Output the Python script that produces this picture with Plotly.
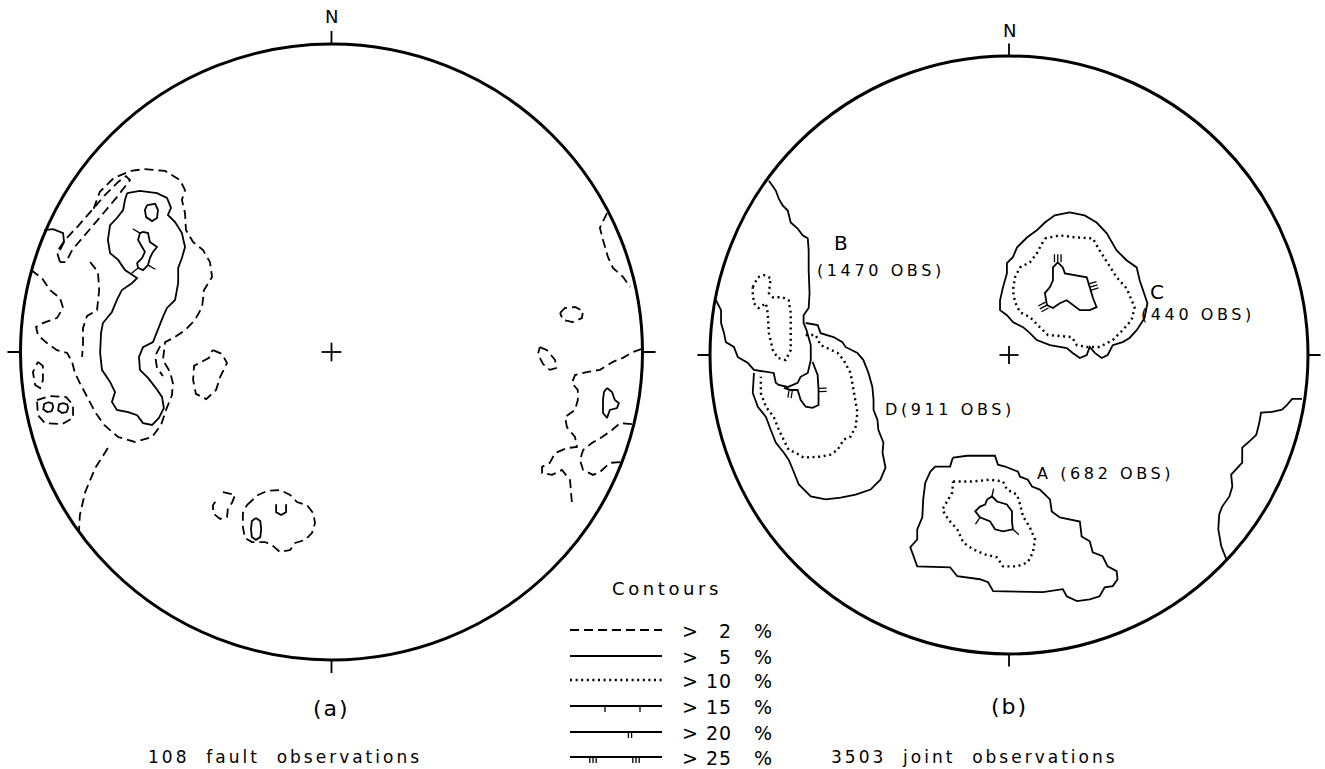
import math
import plotly.graph_objects as go

W, H = 1325, 769
R = 100.0  # net radius in data units

# page geometry of the two stereonets (pixels)
NET_A = dict(cx=331.5, cy=352.0, rx=311.0, ry=308.0)
NET_B = dict(cx=1009.0, cy=355.0, rx=299.0, ry=299.0)

# ---------------- data: net (a), 108 fault observations ----------------
# coordinates: east, north in % of net radius
A_WEST_2 = [(-96.6, 26.6), (-93.1, 24.0), (-90.5, 20.1), (-87.3, 17.5), (-86.3, 14.3), (-88.3, 11.0),
            (-92.8, 9.4), (-95.0, 8.1), (-94.4, 5.5), (-91.5, 2.9), (-88.3, 0.6), (-85.0, -0.3),
            (-83.4, -3.2), (-82.5, -6.8), (-80.9, -10.1), (-78.3, -14.9), (-76.0, -19.5), (-73.1, -23.7),
            (-68.6, -27.6), (-63.2, -29.2), (-57.7, -27.6), (-54.8, -23.7), (-53.2, -18.8), (-51.3, -14.0),
            (-51.0, -10.1), (-51.9, -6.5), (-54.2, -2.6), (-53.5, 3.2), (-50.3, 4.9), (-47.1, 7.1),
            (-43.9, 10.4), (-41.6, 14.6), (-41.0, 20.1), (-38.4, 24.4), (-39.1, 29.2), (-41.3, 33.1),
            (-44.5, 35.7), (-46.8, 39.6), (-47.1, 45.1), (-48.1, 49.4), (-47.1, 52.6), (-48.7, 55.8),
            (-53.5, 58.8), (-60.0, 59.4), (-64.5, 58.8), (-70.0, 56.5), (-74.5, 52.0), (-77.0, 45.1)]
A_WEST_INNER_2 = [(-77.6, 29.2), (-75.1, 26.0), (-74.7, 20.1), (-75.4, 13.6), (-78.6, 11.7), (-79.9, 7.8),
                  (-79.9, 2.9), (-80.2, -1.6)]
A_NW_LOOP_2 = [(-87.3, 29.2), (-88.3, 32.5), (-85.7, 36.4), (-81.5, 40.9), (-77.0, 46.1), (-72.8, 51.0),
               (-68.6, 55.2), (-66.1, 57.1), (-64.8, 55.8), (-69.0, 50.3), (-73.8, 44.5), (-78.9, 38.6),
               (-83.4, 33.1), (-85.4, 29.2)]
A_NW_EDGE_5 = [(-92.4, 39.6), (-89.5, 39.9), (-86.3, 38.6), (-86.0, 35.7), (-87.3, 33.1)]
A_MAIN_5 = [(-65.7, 51.6), (-61.6, 52.3), (-56.1, 51.6), (-52.9, 50.0), (-51.6, 46.8), (-52.6, 44.5),
            (-50.3, 42.2), (-48.1, 38.6), (-47.1, 34.1), (-48.1, 30.5), (-49.3, 27.3), (-49.3, 22.4),
            (-50.3, 16.9), (-52.9, 14.3), (-54.2, 11.4), (-56.1, 6.5), (-57.4, 3.2), (-60.6, 1.6),
            (-61.9, -1.6), (-61.6, -5.8), (-59.0, -8.4), (-56.7, -11.4), (-54.5, -14.6), (-53.9, -18.2),
            (-55.5, -21.4), (-57.7, -23.7), (-60.6, -23.1), (-62.5, -20.5), (-65.4, -19.5), (-69.0, -18.8),
            (-70.6, -16.2), (-69.6, -13.0), (-71.2, -9.7), (-73.8, -5.8), (-74.4, -0.3), (-74.1, 6.2),
            (-73.5, 9.4), (-70.6, 13.0), (-69.0, 16.9), (-67.4, 20.1), (-64.1, 22.4), (-62.5, 24.0),
            (-64.1, 25.0), (-66.4, 26.6), (-68.6, 29.9), (-71.2, 32.1), (-71.9, 36.4), (-71.2, 41.2),
            (-69.0, 43.5), (-67.0, 46.1), (-66.4, 49.4)]
A_Q_5 = [(-59.3, 47.7), (-56.7, 48.1), (-55.8, 46.1), (-56.1, 43.5), (-57.7, 42.5), (-59.6, 43.8), (-60.0, 46.1)]
A_S_15 = [(-60.6, 39.0), (-59.0, 38.6), (-58.4, 35.7), (-56.1, 34.1), (-57.4, 32.5), (-58.4, 30.5),
          (-59.0, 28.2), (-60.6, 26.6), (-62.2, 27.3), (-62.5, 28.9), (-60.9, 30.5), (-60.0, 32.5),
          (-60.9, 34.1), (-62.2, 36.4), (-61.6, 38.6)]
A_S_15_TICKS = [(14, 1), (8, 1), (6, 1)]
A_W_SMALL_2 = [(-94.4, -3.2), (-92.8, -4.5), (-92.8, -9.1), (-93.7, -11.7), (-95.3, -10.7), (-96.0, -6.5)]
A_W_PAIR_2 = [(-94.7, -15.6), (-90.5, -14.3), (-85.4, -14.6), (-83.1, -17.2), (-83.1, -21.4), (-86.6, -23.4),
              (-92.1, -23.1), (-94.4, -20.5)]
A_W_PAIR_5A = [(-91.1, -16.3), (-89.8, -16.7), (-89.5, -17.9), (-90.0, -19.2), (-91.4, -19.5), (-92.7, -18.6),
               (-92.4, -16.9)]
A_W_PAIR_5B = [(-86.3, -16.6), (-85.0, -17.0), (-84.7, -18.2), (-85.2, -19.5), (-86.6, -19.8), (-87.9, -18.9),
               (-87.6, -17.0)]
A_SW_LINE_2 = [(-71.9, -31.2), (-76.0, -37.7), (-79.2, -45.5), (-80.9, -52.9), (-81.2, -58.1)]
A_CENTRAL_2 = [(-38.1, 0.6), (-35.2, -0.6), (-33.6, -3.6), (-35.8, -8.1), (-37.1, -12.3), (-40.3, -15.3),
               (-43.6, -13.6), (-44.5, -9.1), (-44.2, -4.5), (-41.3, -2.9), (-39.4, -1.9), (-38.7, 0.0)]
A_ARC_2 = [(-55.1, 1.9), (-56.7, -1.3), (-56.1, -5.2), (-54.2, -7.8)]
A_S_SMALL_2 = [(-34.9, -45.5), (-31.0, -46.4), (-32.0, -49.0), (-33.3, -50.7), (-33.6, -53.6), (-35.8, -54.2),
               (-38.1, -52.3), (-38.1, -49.7), (-36.5, -47.4)]
A_S_BLOB_2 = [(-27.2, -49.7), (-23.6, -46.4), (-20.7, -45.1), (-16.6, -44.8), (-13.3, -46.4), (-11.1, -48.7),
              (-7.9, -49.7), (-5.9, -52.3), (-5.3, -55.5), (-6.3, -58.8), (-8.5, -61.0), (-11.7, -62.0),
              (-13.3, -64.3), (-16.6, -64.9), (-19.1, -62.7), (-21.4, -61.7), (-25.6, -61.7), (-27.8, -60.4),
              (-28.5, -56.8), (-28.5, -52.3)]
A_S_ELL_5 = [(-24.3, -53.9), (-22.9, -54.9), (-22.6, -57.5), (-22.9, -60.1), (-24.3, -61.0), (-25.6, -60.1),
             (-25.9, -57.5), (-25.6, -54.9)]
A_S_U_5 = [(-17.8, -49.4), (-17.8, -52.0), (-16.2, -52.9), (-14.6, -52.0), (-14.6, -49.4)]
A_NE_EDGE_2 = [(88.6, 45.1), (86.3, 40.3), (87.3, 36.4), (88.9, 30.8), (90.5, 27.3), (93.7, 24.4), (96.0, 21.1)]
A_E_ELL1_2 = [(73.5, 12.7), (75.1, 14.3), (78.3, 14.6), (80.9, 13.3), (80.5, 11.0), (77.6, 9.7), (74.4, 10.4)]
A_E_ELL2_2 = [(67.0, 1.6), (69.3, 0.6), (71.9, -2.6), (72.2, -5.2), (70.2, -5.8), (68.0, -3.9), (66.4, -0.6)]
A_E_LINE_2 = [(99.8, 1.0), (96.9, 0.0), (93.7, -1.9), (90.5, -3.2), (86.3, -5.8), (82.1, -6.5), (78.3, -7.5),
              (77.3, -10.1), (79.2, -12.3), (79.2, -15.6), (78.3, -18.8), (75.1, -21.1), (75.7, -24.4),
              (78.3, -27.6), (78.9, -30.8), (75.7, -31.2), (71.9, -32.8), (70.2, -36.0), (67.7, -37.3),
              (67.7, -39.3), (70.9, -39.9), (74.1, -38.3), (76.7, -41.6), (77.0, -45.5), (77.3, -49.0)]
A_E_BLOB_5 = [(88.6, -11.7), (90.2, -13.0), (91.1, -15.6), (92.4, -16.6), (91.8, -18.2), (89.5, -18.8),
              (88.6, -21.4), (87.3, -19.8), (87.3, -15.6), (87.6, -13.0)]
A_SE_LOOP_2 = [(96.6, -23.4), (92.8, -23.1), (90.2, -25.3), (87.0, -27.6), (83.8, -29.5), (80.9, -31.8),
               (79.9, -35.1), (80.9, -38.3), (84.1, -39.9), (86.3, -39.0), (89.5, -36.0), (93.1, -35.7)]

# ---------------- data: net (b), 3503 joint observations ----------------
B_B_5 = [(-80.3, 58.3), (-78.0, 55.0), (-77.0, 52.3), (-75.7, 50.0), (-74.0, 48.3), (-73.0, 44.3),
         (-70.7, 42.3), (-69.0, 40.0), (-67.3, 39.0), (-67.0, 35.0), (-67.0, 28.3), (-66.7, 20.7),
         (-67.0, 15.7), (-68.7, 13.3), (-68.7, 10.7), (-67.7, 8.3), (-66.3, 3.3), (-66.3, -1.7),
         (-67.3, -6.0), (-69.7, -7.3), (-70.7, -9.3), (-74.0, -10.7), (-77.0, -10.0), (-78.0, -9.3),
         (-78.7, -6.0), (-80.7, -5.7), (-85.3, -5.0), (-87.3, -2.7), (-90.7, -0.7), (-92.0, 2.7),
         (-94.7, 4.3), (-95.3, 7.3), (-96.3, 10.7), (-96.3, 15.0), (-98.0, 18.3)]
B_B_10 = [(-85.7, 22.7), (-84.0, 26.0), (-82.0, 26.7), (-79.7, 25.7), (-80.3, 20.7), (-79.0, 19.3),
          (-75.7, 19.3), (-73.7, 18.3), (-73.0, 14.0), (-73.0, 7.3), (-73.0, 1.7), (-74.7, -1.7),
          (-77.3, -1.0), (-79.0, 1.7), (-80.3, 7.3), (-80.7, 14.0), (-81.3, 17.3), (-83.7, 15.7),
          (-85.3, 17.3), (-85.7, 20.7)]
B_D_5 = [(-68.0, 10.7), (-64.0, 10.0), (-63.0, 7.3), (-58.7, 6.0), (-55.7, 4.3), (-54.7, 2.7), (-50.7, 0.7),
         (-48.7, -1.7), (-47.0, -6.0), (-45.7, -10.7), (-45.3, -15.0), (-45.3, -18.3), (-44.0, -21.7),
         (-43.7, -25.0), (-42.0, -29.3), (-42.3, -32.7), (-41.3, -37.7), (-43.0, -41.7), (-46.3, -45.0),
         (-51.3, -46.7), (-56.3, -47.7), (-61.3, -48.3), (-66.3, -47.3), (-70.3, -43.3), (-72.3, -38.3),
         (-73.7, -35.0), (-75.3, -32.7), (-78.0, -29.3), (-79.7, -25.0), (-81.3, -20.7), (-84.0, -17.3),
         (-85.7, -12.7), (-85.3, -6.0)]
B_D_10 = [(-68.0, 6.7), (-64.7, 6.7), (-63.0, 3.3), (-59.7, 1.7), (-57.3, 0.7), (-55.3, -1.7), (-53.0, -6.0),
          (-52.0, -11.7), (-50.7, -19.3), (-51.3, -24.0), (-53.0, -27.3), (-55.3, -28.3), (-57.3, -31.7),
          (-59.7, -33.3), (-63.0, -34.0), (-68.7, -34.3), (-71.3, -32.7), (-73.7, -31.7), (-75.3, -28.3),
          (-77.0, -25.0), (-78.7, -20.7), (-81.3, -17.3), (-83.0, -12.7), (-83.0, -7.3)]
B_D_20 = [(-65.7, -2.3), (-64.0, -6.7), (-63.7, -11.7), (-63.7, -16.7), (-65.7, -17.7), (-68.0, -17.3),
          (-69.7, -15.0), (-70.7, -11.7), (-73.0, -11.7), (-75.3, -11.0)]
B_D_20_TICKS = [(2, 2), (8, 2)]
B_C_5 = [(9.3, 41.7), (6.0, 39.3), (2.7, 36.0), (1.3, 32.7), (-0.7, 30.7), (-0.7, 27.3), (-2.0, 22.7),
         (-3.0, 18.3), (-3.0, 15.0), (-0.7, 13.3), (1.3, 11.0), (4.7, 9.3), (7.0, 7.3), (9.3, 5.0),
         (13.7, 3.3), (19.3, 2.3), (21.3, 0.7), (23.7, -1.0), (26.0, 0.0), (27.0, 2.7), (28.7, 0.7),
         (31.0, -1.0), (33.0, 0.0), (34.7, 3.3), (38.0, 4.3), (40.3, 5.7), (42.7, 8.3), (45.3, 12.3),
         (46.3, 17.3), (44.7, 21.7), (43.7, 25.0), (42.7, 29.3), (39.3, 31.7), (36.0, 35.0), (32.7, 40.7),
         (29.3, 44.3), (25.3, 46.7), (20.3, 47.7), (15.3, 46.7), (12.0, 44.3)]
B_C_10 = [(12.0, 39.0), (17.0, 40.0), (22.7, 39.3), (28.0, 39.0), (30.3, 35.0), (33.0, 30.7), (36.0, 26.0),
          (39.3, 22.3), (42.0, 16.0), (41.0, 11.7), (38.0, 8.3), (34.7, 5.0), (30.3, 2.7), (26.0, 2.7),
          (22.7, 3.3), (21.0, 6.0), (17.0, 6.3), (13.0, 6.7), (10.3, 9.3), (7.0, 12.7), (3.7, 14.3),
          (2.0, 17.7), (1.3, 21.7), (2.0, 26.0), (3.7, 29.3), (7.0, 31.0), (9.3, 34.0)]
B_C_25 = [(16.3, 31.0), (18.0, 29.3), (18.7, 27.3), (22.7, 26.7), (26.0, 26.0), (27.0, 22.7), (28.0, 19.3),
          (29.3, 16.0), (27.0, 15.0), (23.7, 15.0), (21.3, 16.7), (19.3, 18.3), (17.0, 17.3), (14.7, 15.7),
          (12.7, 16.7), (12.0, 20.7), (13.7, 22.7), (14.7, 25.0), (14.7, 29.3)]
B_C_25_TICKS = [(0, 3), (5, 3), (14, 3)]
B_A_5 = [(-18.7, -34.3), (-14.0, -33.7), (-4.7, -33.7), (-3.7, -36.7), (-1.3, -37.3), (3.0, -39.0),
         (3.7, -40.7), (6.3, -41.7), (7.7, -44.0), (10.3, -45.0), (13.7, -48.3), (14.3, -52.3), (17.0, -54.3),
         (23.7, -55.7), (24.3, -60.7), (27.0, -62.3), (28.0, -66.0), (31.3, -67.3), (33.0, -70.7),
         (36.0, -72.3), (36.3, -75.0), (34.7, -77.3), (32.0, -77.7), (30.3, -80.7), (27.0, -81.7),
         (22.7, -82.3), (19.3, -80.7), (18.0, -78.3), (11.3, -79.3), (1.3, -79.0), (-5.3, -79.0),
         (-7.0, -76.0), (-9.7, -75.0), (-17.3, -74.0), (-19.7, -71.0), (-30.7, -70.7), (-32.0, -67.3),
         (-33.0, -64.3), (-30.7, -61.7), (-30.7, -58.3), (-29.0, -54.3), (-28.7, -48.3), (-28.0, -42.7),
         (-26.3, -39.0), (-24.7, -37.3), (-19.7, -37.3), (-19.0, -35.0)]
B_A_10 = [(-18.7, -42.3), (-12.0, -42.3), (-6.3, -41.7), (-2.0, -42.3), (-0.7, -45.0), (2.7, -46.7),
          (3.7, -50.0), (4.7, -54.0), (7.0, -57.7), (8.7, -61.7), (8.0, -66.0), (6.3, -69.3), (2.7, -70.7),
          (-2.0, -70.7), (-4.0, -67.7), (-8.0, -66.7), (-12.0, -65.0), (-15.3, -62.7), (-17.3, -58.3),
          (-20.3, -55.0), (-22.3, -51.7), (-20.7, -49.0), (-19.0, -46.0)]
B_A_15 = [(-7.3, -48.3), (-5.7, -47.3), (-4.0, -49.0), (-0.7, -50.0), (1.0, -52.3), (1.0, -55.7),
          (1.3, -58.3), (-2.0, -59.0), (-4.7, -58.3), (-6.3, -55.7), (-9.7, -54.3), (-11.3, -52.3),
          (-9.7, -50.7), (-8.0, -50.0)]
B_A_15_TICKS = [(1, 1), (6, 1), (10, 1)]
B_EAST_5 = [(98.0, -14.7), (94.7, -14.7), (93.0, -16.7), (91.3, -18.3), (88.0, -19.0), (84.3, -19.3),
            (83.7, -22.7), (82.7, -26.7), (80.3, -29.0), (78.0, -31.0), (78.0, -36.0), (76.0, -38.3),
            (74.3, -40.0), (74.7, -44.0), (73.7, -47.3), (71.3, -50.7), (70.3, -53.3), (70.0, -58.3),
            (71.0, -64.0), (72.7, -68.3)]

# labels of the joint sets in net (b): (east, north, text)
B_LABELS = [(-56.3, 37.3, "B"), (-42.7, 28.3, "(1470 OBS)"), (46.5, 21.0, "C"),
            (43.5, 13.7, "(440 OBS)"), (-42.3, -18.3, "D(911 OBS)"), (8.7, -39.7, "A (682 OBS)")]

LEGEND_TITLE = "Contours"
LEGEND_LEVELS = ["2", "5", "10", "15", "20", "25"]
CAPTION_A = ("(a)", "108  fault  observations")
CAPTION_B = ("(b)", "3503  joint  observations")

# ---------------- styles ----------------
INK = "black"
STYLE = {
    2: dict(color=INK, width=1.8, dash="9px,5px"),
    5: dict(color=INK, width=1.8),
    10: dict(color=INK, width=2.4, dash="2px,3.6px"),
    15: dict(color=INK, width=1.8),
    20: dict(color=INK, width=1.8),
    25: dict(color=INK, width=1.8),
}
FONT = "DejaVu Sans"


def domain(net, xr, yr):
    ux, uy = net["rx"] / R, net["ry"] / R
    x0, x1 = net["cx"] + xr[0] * ux, net["cx"] + xr[1] * ux
    ytop, ybot = net["cy"] - yr[1] * uy, net["cy"] - yr[0] * uy
    return [x0 / W, x1 / W], [1 - ybot / H, 1 - ytop / H]


XR_A, YR_A = [-106, 106], [-106, 106]
XR_B, YR_B = [-106, 105.5], [-106, 106]
dxa, dya = domain(NET_A, XR_A, YR_A)
dxb, dyb = domain(NET_B, XR_B, YR_B)

fig = go.Figure()


def add_line(pts, level, ax, closed=False):
    xs = [p[0] for p in pts]
    ys = [p[1] for p in pts]
    if closed:
        xs.append(xs[0])
        ys.append(ys[0])
    fig.add_trace(go.Scatter(x=xs, y=ys, mode="lines", line=STYLE[level], xaxis="x" + ax,
                             yaxis="y" + ax, hoverinfo="skip", showlegend=False))


def add_hachures(pts, specs, ax, closed=True, length=2.7, gap=1.1):
    n = len(pts)
    mx = sum(p[0] for p in pts) / n
    my = sum(p[1] for p in pts) / n
    sx, sy = [], []
    for idx, count in specs:
        px_, py_ = pts[idx]
        a = pts[(idx - 1) % n] if (closed or idx > 0) else pts[idx]
        b = pts[(idx + 1) % n] if (closed or idx < n - 1) else pts[idx]
        tx, ty = b[0] - a[0], b[1] - a[1]
        L = math.hypot(tx, ty) or 1.0
        tx, ty = tx / L, ty / L
        nx, ny = -ty, tx
        if (px_ - mx) * nx + (py_ - my) * ny < 0:
            nx, ny = -nx, -ny
        for k in range(count):
            off = (k - (count - 1) / 2) * gap
            bx, by = px_ + tx * off, py_ + ty * off
            sx += [bx, bx + nx * length, None]
            sy += [by, by + ny * length, None]
    fig.add_trace(go.Scatter(x=sx, y=sy, mode="lines", line=dict(color=INK, width=1.3),
                             xaxis="x" + ax, yaxis="y" + ax, hoverinfo="skip", showlegend=False))


# net (a) contours
for pts, lev, cl in [
    (A_WEST_2, 2, False), (A_WEST_INNER_2, 2, False), (A_NW_LOOP_2, 2, True), (A_NW_EDGE_5, 5, False),
    (A_MAIN_5, 5, True), (A_Q_5, 5, True), (A_S_15, 15, True), (A_W_SMALL_2, 2, True),
    (A_W_PAIR_2, 2, True), (A_W_PAIR_5A, 5, True), (A_W_PAIR_5B, 5, True), (A_SW_LINE_2, 2, False),
    (A_CENTRAL_2, 2, True), (A_ARC_2, 2, False), (A_S_SMALL_2, 2, False), (A_S_BLOB_2, 2, True),
    (A_S_ELL_5, 5, True), (A_S_U_5, 5, False), (A_NE_EDGE_2, 2, False), (A_E_ELL1_2, 2, True),
    (A_E_ELL2_2, 2, True), (A_E_LINE_2, 2, False), (A_E_BLOB_5, 5, True), (A_SE_LOOP_2, 2, False),
]:
    add_line(pts, lev, "", cl)
add_hachures(A_S_15, A_S_15_TICKS, "")

# net (b) contours
for pts, lev, cl in [
    (B_B_5, 5, False), (B_B_10, 10, True), (B_D_5, 5, False), (B_D_10, 10, False), (B_D_20, 20, False),
    (B_C_5, 5, True), (B_C_10, 10, True), (B_C_25, 25, True), (B_A_5, 5, True), (B_A_10, 10, True),
    (B_A_15, 15, True), (B_EAST_5, 5, False),
]:
    add_line(pts, lev, "2", cl)
add_hachures(B_D_20, B_D_20_TICKS, "2", closed=False)
add_hachures(B_C_25, B_C_25_TICKS, "2")
add_hachures(B_A_15, B_A_15_TICKS, "2")

shapes = []
for ax in ["", "2"]:
    xr, yr = "x" + ax, "y" + ax
    shapes.append(dict(type="circle", xref=xr, yref=yr, x0=-R, x1=R, y0=-R, y1=R,
                       line=dict(color=INK, width=3)))
    t = 4.2
    for (x0, y0, x1, y1) in [(0, R, 0, R + t), (0, -R, 0, -R - t), (R, 0, R + t, 0), (-R, 0, -R - t, 0),
                             (-3.2, 0, 3.2, 0), (0, -3.0, 0, 3.0)]:
        shapes.append(dict(type="line", xref=xr, yref=yr, x0=x0, y0=y0, x1=x1, y1=y1,
                           line=dict(color=INK, width=1.8)))


def px(x, y):
    return x / W, 1 - y / H


# legend (drawn in page pixels)
LX0, LX1 = 570, 662
ROWS = [630, 656, 680, 706, 732, 757]
for lev, yy in zip(LEGEND_LEVELS, ROWS):
    st = STYLE[int(lev)]
    a0, b0 = px(LX0, yy)
    a1, _ = px(LX1, yy)
    shapes.append(dict(type="line", xref="paper", yref="paper", x0=a0, x1=a1, y0=b0, y1=b0,
                       line=dict(color=INK, width=st["width"], dash=st.get("dash", "solid"))))
TICK_SPEC = {"15": [(605, 1), (640, 1)], "20": [(630, 2)], "25": [(593, 3), (636, 3)]}
for lev, yy in zip(LEGEND_LEVELS, ROWS):
    for xc, cnt in TICK_SPEC.get(lev, []):
        for k in range(cnt):
            xx = xc + (k - (cnt - 1) / 2) * 3.2
            a0, b0 = px(xx, yy)
            _, b1 = px(xx, yy + 6)
            shapes.append(dict(type="line", xref="paper", yref="paper", x0=a0, x1=a0, y0=b0, y1=b1,
                               line=dict(color=INK, width=1.3)))

ann = []


def txt(x, y, s, size, anchor="center", ref=None, spacing=0):
    if spacing:
        s = '<span style="letter-spacing:%.1fpx">%s</span>' % (spacing, s)
    if ref is None:
        xx, yy = px(x, y)
        xref, yref = "paper", "paper"
    else:
        xx, yy = x, y
        xref, yref = "x" + ref, "y" + ref
    ann.append(dict(x=xx, y=yy, xref=xref, yref=yref, text=s, showarrow=False, xanchor=anchor,
                    yanchor="middle", font=dict(family=FONT, size=size, color=INK)))


txt(NET_A["cx"], 17, "N", 18)
txt(NET_B["cx"], 31, "N", 18)
txt(NET_A["cx"], 708, CAPTION_A[0], 22, spacing=2)
txt(NET_B["cx"], 706, CAPTION_B[0], 22, spacing=2)
txt(285, 757, CAPTION_A[1], 17, spacing=3.0)
txt(975, 757, CAPTION_B[1], 17, spacing=3.0)
txt(667, 588, LEGEND_TITLE, 18, spacing=3.6)
for lev, yy in zip(LEGEND_LEVELS, ROWS):
    txt(690, yy + 1, "&gt;", 19)
    txt(734, yy + 1, lev, 19, anchor="right", spacing=1)
    txt(763, yy + 1, "%", 19)
for (e, n, s) in B_LABELS:
    big = len(s) == 1
    anchor = "center" if s in ("B", "(1470 OBS)") else "left"
    txt(e, n, s, 20 if big else 16, anchor=anchor, ref="2", spacing=0 if big else 3.6)

axis_common = dict(visible=False, showgrid=False, zeroline=False, fixedrange=True)
fig.update_layout(
    width=W, height=H, autosize=False, margin=dict(l=0, r=0, t=0, b=0),
    paper_bgcolor="white", plot_bgcolor="rgba(0,0,0,0)",
    xaxis=dict(domain=dxa, range=XR_A, **axis_common),
    yaxis=dict(domain=dya, range=YR_A, **axis_common),
    xaxis2=dict(domain=dxb, range=XR_B, anchor="y2", **axis_common),
    yaxis2=dict(domain=dyb, range=YR_B, anchor="x2", **axis_common),
    shapes=shapes, annotations=ann, showlegend=False,
)

fig.write_html("out.html", config=dict(displayModeBar=False, responsive=False),
               post_script="document.body.style.margin='0';")
